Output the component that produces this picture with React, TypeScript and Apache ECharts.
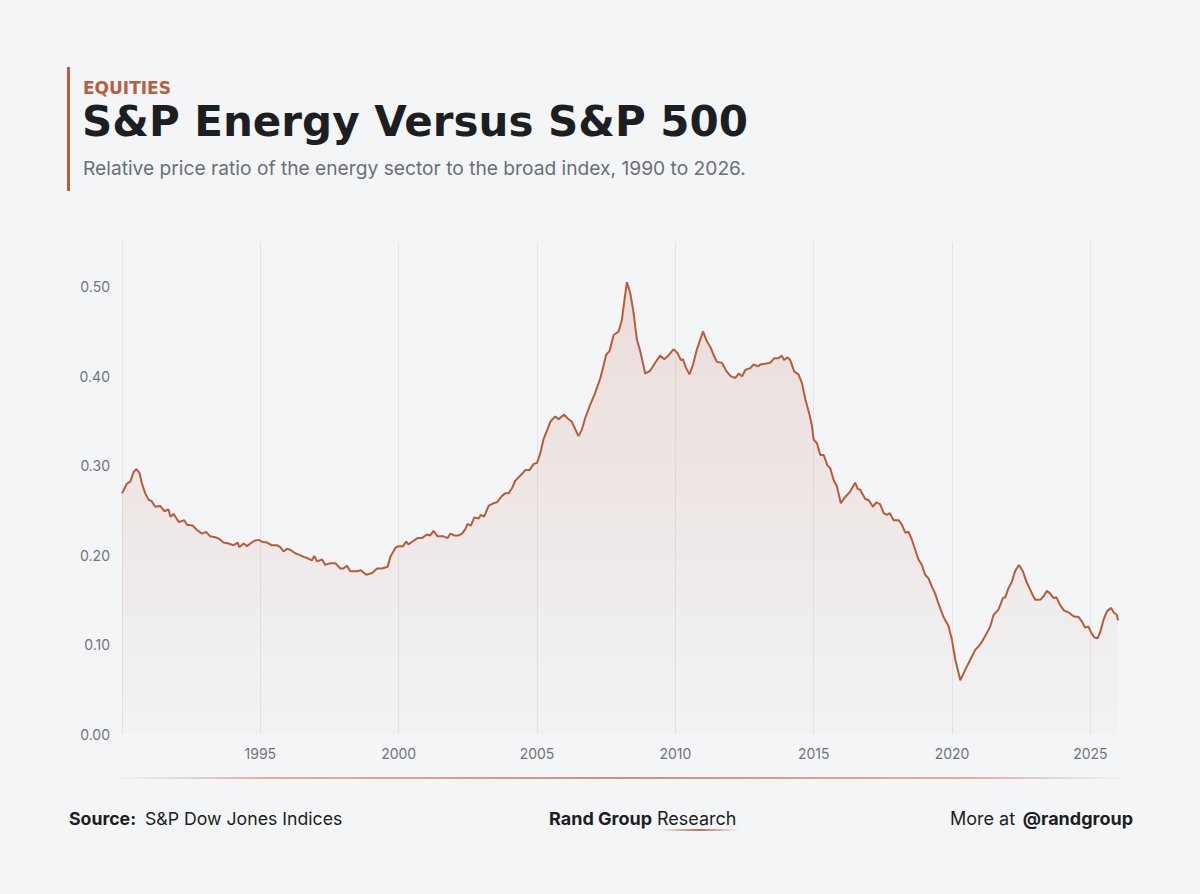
import React, { useEffect, useRef } from "react";
import * as echarts from "echarts";

// ---- Data (decimal year, relative price ratio) ----
const years: number[] = [
  1990.0, 1990.18, 1990.3, 1990.42, 1990.52, 1990.63, 1990.72, 1990.84, 1990.96, 1991.08,
  1991.2, 1991.38, 1991.54, 1991.68, 1991.75, 1991.87, 1992.05, 1992.25, 1992.35, 1992.55,
  1992.71, 1992.89, 1993.04, 1993.19, 1993.37, 1993.52, 1993.67, 1993.85, 1994.03, 1994.18,
  1994.24, 1994.4, 1994.52, 1994.64, 1994.79, 1994.94, 1995.06, 1995.24, 1995.42, 1995.6,
  1995.72, 1995.84, 1995.96, 1996.08, 1996.26, 1996.44, 1996.56, 1996.68, 1996.86, 1996.95,
  1997.05, 1997.23, 1997.35, 1997.53, 1997.71, 1997.89, 1998.0, 1998.13, 1998.25, 1998.49,
  1998.63, 1998.83, 1999.04, 1999.22, 1999.4, 1999.6, 1999.7, 1999.88, 2000.0, 2000.16,
  2000.27, 2000.35, 2000.54, 2000.68, 2000.84, 2001.02, 2001.14, 2001.26, 2001.41, 2001.62,
  2001.77, 2001.87, 2002.01, 2002.17, 2002.29, 2002.41, 2002.49, 2002.61, 2002.73, 2002.89,
  2002.97, 2003.09, 2003.25, 2003.43, 2003.55, 2003.73, 2003.85, 2003.97, 2004.1, 2004.21,
  2004.4, 2004.58, 2004.73, 2004.88, 2005.0, 2005.12, 2005.24, 2005.36, 2005.48, 2005.66,
  2005.78, 2005.98, 2006.1, 2006.26, 2006.38, 2006.5, 2006.62, 2006.74, 2006.92, 2007.1,
  2007.29, 2007.4, 2007.5, 2007.62, 2007.77, 2007.95, 2008.07, 2008.16, 2008.25, 2008.37,
  2008.49, 2008.61, 2008.73, 2008.91, 2009.09, 2009.27, 2009.45, 2009.6, 2009.75, 2009.93,
  2010.08, 2010.2, 2010.27, 2010.39, 2010.51, 2010.64, 2010.78, 2011.0, 2011.14, 2011.26,
  2011.38, 2011.5, 2011.68, 2011.86, 2012.0, 2012.17, 2012.29, 2012.41, 2012.53, 2012.71,
  2012.83, 2013.0, 2013.07, 2013.25, 2013.43, 2013.57, 2013.73, 2013.85, 2013.93, 2014.05,
  2014.15, 2014.3, 2014.45, 2014.58, 2014.7, 2014.85, 2014.94, 2015.0, 2015.12, 2015.24,
  2015.36, 2015.5, 2015.6, 2015.72, 2015.84, 2015.98, 2016.14, 2016.32, 2016.5, 2016.59,
  2016.68, 2016.86, 2017.0, 2017.14, 2017.26, 2017.4, 2017.53, 2017.65, 2017.75, 2017.89,
  2018.07, 2018.19, 2018.31, 2018.43, 2018.55, 2018.67, 2018.79, 2018.91, 2019.03, 2019.15,
  2019.27, 2019.39, 2019.51, 2019.69, 2019.87, 2020.0, 2020.12, 2020.3, 2020.48, 2020.66,
  2020.84, 2020.96, 2021.08, 2021.26, 2021.38, 2021.5, 2021.68, 2021.84, 2021.93, 2022.04,
  2022.16, 2022.28, 2022.42, 2022.56, 2022.68, 2022.8, 2022.94, 2023.01, 2023.19, 2023.31,
  2023.43, 2023.55, 2023.67, 2023.77, 2023.91, 2024.05, 2024.21, 2024.33, 2024.45, 2024.57,
  2024.69, 2024.81, 2024.93, 2025.02, 2025.14, 2025.26, 2025.36, 2025.48, 2025.6, 2025.75,
  2025.84, 2025.96, 2026.0,
];

const ratio: number[] = [
  0.269, 0.28, 0.282, 0.293, 0.296, 0.292, 0.28, 0.269, 0.262, 0.26,
  0.254, 0.255, 0.249, 0.251, 0.243, 0.246, 0.237, 0.239, 0.234, 0.233,
  0.228, 0.224, 0.226, 0.221, 0.22, 0.218, 0.214, 0.213, 0.211, 0.214,
  0.209, 0.213, 0.21, 0.213, 0.216, 0.217, 0.215, 0.214, 0.211, 0.211,
  0.209, 0.204, 0.207, 0.206, 0.202, 0.2, 0.198, 0.197, 0.194, 0.199,
  0.193, 0.195, 0.189, 0.191, 0.191, 0.185, 0.185, 0.188, 0.182, 0.182,
  0.183, 0.178, 0.18, 0.185, 0.185, 0.187, 0.198, 0.208, 0.21, 0.21,
  0.215, 0.212, 0.216, 0.219, 0.219, 0.223, 0.222, 0.227, 0.221, 0.221,
  0.219, 0.224, 0.222, 0.222, 0.224, 0.229, 0.235, 0.233, 0.242, 0.241,
  0.245, 0.243, 0.255, 0.258, 0.259, 0.266, 0.269, 0.269, 0.275, 0.283,
  0.289, 0.295, 0.295, 0.302, 0.303, 0.314, 0.33, 0.339, 0.349, 0.355,
  0.352, 0.357, 0.353, 0.349, 0.341, 0.333, 0.34, 0.353, 0.368, 0.381,
  0.398, 0.411, 0.424, 0.428, 0.446, 0.45, 0.463, 0.485, 0.505, 0.493,
  0.471, 0.441, 0.428, 0.403, 0.406, 0.415, 0.423, 0.419, 0.423, 0.43,
  0.426, 0.418, 0.419, 0.409, 0.402, 0.413, 0.43, 0.45, 0.439, 0.433,
  0.424, 0.416, 0.415, 0.405, 0.4, 0.398, 0.403, 0.4, 0.407, 0.409,
  0.413, 0.411, 0.413, 0.414, 0.415, 0.42, 0.42, 0.423, 0.418, 0.421,
  0.418, 0.405, 0.402, 0.392, 0.374, 0.357, 0.344, 0.329, 0.325, 0.312,
  0.312, 0.3, 0.297, 0.284, 0.277, 0.258, 0.265, 0.271, 0.281, 0.274,
  0.273, 0.263, 0.261, 0.254, 0.259, 0.257, 0.247, 0.245, 0.247, 0.239,
  0.239, 0.234, 0.225, 0.226, 0.217, 0.206, 0.195, 0.189, 0.178, 0.174,
  0.165, 0.157, 0.146, 0.131, 0.121, 0.105, 0.083, 0.06, 0.072, 0.083,
  0.094, 0.098, 0.103, 0.113, 0.12, 0.133, 0.139, 0.152, 0.153, 0.163,
  0.17, 0.182, 0.189, 0.182, 0.171, 0.163, 0.154, 0.15, 0.15, 0.154,
  0.16, 0.157, 0.152, 0.153, 0.144, 0.138, 0.136, 0.133, 0.131, 0.131,
  0.126, 0.119, 0.12, 0.114, 0.108, 0.107, 0.114, 0.128, 0.137, 0.141,
  0.136, 0.133, 0.127,
];

const xMin = 1990;
const xMax = 2026;
const xStep = 5;
const yMin = 0;
const yMax = 0.55;
const yStep = 0.1;

const kicker = "EQUITIES";
const title = "S&P Energy Versus S&P 500";
const subtitle = "Relative price ratio of the energy sector to the broad index, 1990 to 2026.";

const BG = "#f3f5f7";
const ACCENT = "#b95c3b";
const FONT = "Inter, 'Noto Sans', sans-serif";
const HEAVY = "'DejaVu Sans', Inter, sans-serif";
const INK = "#1c1e22";

export default function App() {
  const ref = useRef<HTMLDivElement>(null);

  useEffect(() => {
    if (!ref.current) return;
    const chart = echarts.init(ref.current, undefined, { renderer: "svg" });

    const seriesData = years.map((y, i) => [y, ratio[i]]);
    const nTicks = Math.floor((xMax - xMin) / xStep) + 1;
    const splitColors: string[] = [];
    for (let i = 0; i < nTicks; i++) splitColors.push("#e2e4e7");
    splitColors.push("rgba(0,0,0,0)");

    const txt = (text: string, x: number, y: number, font: string, fill: string, align = "left") => ({
      type: "text",
      x,
      y,
      style: { text, font, fill, textAlign: align, textVerticalAlign: "middle" },
    });

    const option: any = {
      animation: false,
      backgroundColor: BG,
      textStyle: { fontFamily: FONT },
      grid: { left: 122, right: 82, top: 242, bottom: 160, containLabel: false },
      xAxis: {
        type: "value",
        min: xMin,
        max: xMax,
        interval: xStep,
        axisLine: { show: false },
        axisTick: { show: false },
        axisLabel: {
          color: "#70747b",
          fontSize: 14,
          fontFamily: FONT,
          margin: 12,
          formatter: (v: number) => (v % xStep === 0 && v > xMin ? String(v) : ""),
        },
        splitLine: { show: true, lineStyle: { color: splitColors, width: 1 } },
      },
      yAxis: {
        type: "value",
        min: yMin,
        max: yMax,
        interval: yStep,
        axisLine: { show: false },
        axisTick: { show: false },
        splitLine: { show: false },
        axisLabel: {
          color: "#70747b",
          fontSize: 14,
          fontFamily: FONT,
          margin: 12,
          formatter: (v: number) => (v > 0.5 + 1e-9 ? "" : v.toFixed(2)),
        },
      },
      series: [
        {
          type: "line",
          data: seriesData,
          showSymbol: false,
          symbol: "none",
          lineStyle: { color: ACCENT, width: 2 },
          areaStyle: {
            color: {
              type: "linear",
              x: 0,
              y: 0,
              x2: 0,
              y2: 1,
              colorStops: [
                { offset: 0, color: "rgba(196,118,92,0.27)" },
                { offset: 1, color: "rgba(196,118,92,0.03)" },
              ],
            },
          },
        },
      ],
      graphic: [
        { type: "rect", x: 67, y: 67, shape: { width: 3, height: 124 }, style: { fill: ACCENT } },
        txt(kicker, 83, 87.5, `700 17px ${HEAVY}`, "#b5603f"),
        txt(title, 82, 121.5, `700 42px ${HEAVY}`, INK),
        txt(subtitle, 83, 168, `400 19.2px ${FONT}`, "#6b6f76"),
        {
          type: "rect",
          x: 110,
          y: 777,
          shape: { width: 1020, height: 2 },
          style: {
            fill: {
              type: "linear",
              x: 0,
              y: 0,
              x2: 1,
              y2: 0,
              colorStops: [
                { offset: 0, color: "rgba(200,120,90,0)" },
                { offset: 0.15, color: "rgba(200,120,90,0.55)" },
                { offset: 0.5, color: "rgba(190,100,80,0.7)" },
                { offset: 0.85, color: "rgba(200,120,90,0.55)" },
                { offset: 1, color: "rgba(200,120,90,0)" },
              ],
            },
          },
        },
        txt("Source:", 69, 818, `700 17.7px ${FONT}`, INK),
        txt("S&P Dow Jones Indices", 145, 818, `400 17.7px ${FONT}`, INK),
        txt("Rand Group", 549, 818, `700 18px ${FONT}`, INK),
        txt("Research", 657, 818, `400 18px ${FONT}`, INK),
        {
          type: "rect",
          x: 660,
          y: 829,
          shape: { width: 79, height: 2 },
          style: {
            fill: {
              type: "linear",
              x: 0,
              y: 0,
              x2: 1,
              y2: 0,
              colorStops: [
                { offset: 0, color: "rgba(190,95,60,0)" },
                { offset: 0.5, color: "rgba(190,95,60,0.9)" },
                { offset: 1, color: "rgba(190,95,60,0)" },
              ],
            },
          },
        },
        txt("More at", 950, 818, `400 18px ${FONT}`, INK),
        txt("@randgroup", 1133, 818, `700 18px ${FONT}`, INK, "right"),
      ],
    };

    chart.setOption(option);
    return () => chart.dispose();
  }, []);

  return (
    <div
      ref={ref}
      style={{ position: "absolute", left: 0, top: 0, width: 1200, height: 894, background: BG }}
    />
  );
}
